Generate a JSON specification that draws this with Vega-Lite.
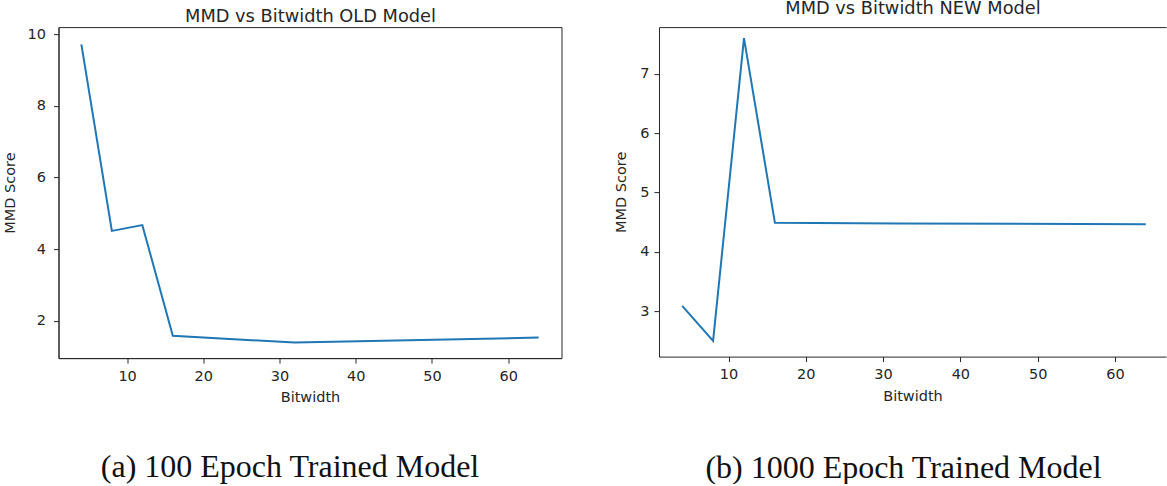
{
  "$schema": "https://vega.github.io/schema/vega-lite/v6.json",
  "padding": {"left": 1.5, "top": -0.9, "right": 0, "bottom": 0},
  "background": "white",
  "spacing": 50.5,
  "config": {
    "view": {"stroke": "#262626", "strokeWidth": 1},
    "axis": {
      "grid": false,
      "labelFont": "DejaVu Sans",
      "titleFont": "DejaVu Sans",
      "labelFontSize": 14.5,
      "titleFontSize": 14.5,
      "titleFontWeight": "normal",
      "labelColor": "#262626",
      "titleColor": "#262626",
      "tickColor": "#262626",
      "domainColor": "#262626",
      "tickSize": 5,
      "labelPadding": 6,
      "titlePadding": 8
    }
  },
  "hconcat": [
    {
      "width": 503,
      "height": 331,
      "data": {"values": [
        {"bitwidth": 4, "mmd": 9.72},
        {"bitwidth": 8, "mmd": 4.51},
        {"bitwidth": 12, "mmd": 4.67},
        {"bitwidth": 16, "mmd": 1.58},
        {"bitwidth": 32, "mmd": 1.39},
        {"bitwidth": 64, "mmd": 1.53}
      ]},
      "resolve": {"axis": {"x": "independent"}},
      "layer": [
        {
          "mark": {"type": "line", "color": "#1f77b4", "strokeWidth": 2},
          "encoding": {
            "x": {"field": "bitwidth", "type": "quantitative", "scale": {"domain": [1, 67], "nice": false, "zero": false}, "axis": {"title": "Bitwidth", "values": [10, 20, 30, 40, 50, 60]}},
            "y": {"field": "mmd", "type": "quantitative", "scale": {"domain": [0.957, 10.2], "nice": false, "zero": false}, "axis": {"title": "MMD Score", "values": [2, 4, 6, 8, 10], "format": "d", "labelPadding": 8, "titlePadding": 10}}
          }
        },
        {
          "mark": {"type": "line", "strokeOpacity": 0},
          "encoding": {
            "x": {"field": "bitwidth", "type": "quantitative", "axis": {"orient": "bottom", "title": "(a) 100 Epoch Trained Model", "titleFont": "Liberation Serif", "titleFontSize": 32, "titleColor": "#111", "titlePadding": 93, "titleX": 231, "labels": false, "ticks": false, "domain": false}},
            "y": {"field": "mmd", "type": "quantitative"}
          }
        },
        {
          "mark": {"type": "line", "strokeOpacity": 0},
          "encoding": {
            "x": {"field": "bitwidth", "type": "quantitative", "axis": {"orient": "top", "title": "MMD vs Bitwidth OLD Model", "titleFontSize": 17.8, "titleBaseline": "alphabetic", "titlePadding": 6, "labels": false, "ticks": false, "domain": false}},
            "y": {"field": "mmd", "type": "quantitative"}
          }
        }
      ]
    },
    {
      "width": 507,
      "height": 329.5,
      "view": {"stroke": null},
      "data": {"values": [
        {"bitwidth": 4, "mmd": 3.09},
        {"bitwidth": 8, "mmd": 2.5},
        {"bitwidth": 12, "mmd": 7.6},
        {"bitwidth": 16, "mmd": 4.49},
        {"bitwidth": 32, "mmd": 4.48},
        {"bitwidth": 64, "mmd": 4.465}
      ]},
      "resolve": {"axis": {"x": "independent"}},
      "layer": [
        {
          "mark": {"type": "line", "color": "#1f77b4", "strokeWidth": 2},
          "encoding": {
            "x": {"field": "bitwidth", "type": "quantitative", "scale": {"domain": [1, 66.612], "nice": false, "zero": false}, "axis": {"title": "Bitwidth", "values": [10, 20, 30, 40, 50, 60]}},
            "y": {"field": "mmd", "type": "quantitative", "scale": {"domain": [2.237, 7.785], "nice": false, "zero": false}, "axis": {"title": "MMD Score", "values": [3, 4, 5, 6, 7], "format": "d", "labelPadding": 5, "titlePadding": 11}}
          }
        },
        {
          "mark": {"type": "line", "strokeOpacity": 0},
          "encoding": {
            "x": {"field": "bitwidth", "type": "quantitative", "axis": {"orient": "bottom", "title": "(b) 1000 Epoch Trained Model", "titleFont": "Liberation Serif", "titleFontSize": 32, "titleColor": "#111", "titlePadding": 96, "titleX": 244, "labels": false, "ticks": false, "domain": false}},
            "y": {"field": "mmd", "type": "quantitative"}
          }
        },
        {
          "mark": {"type": "line", "strokeOpacity": 0},
          "encoding": {
            "x": {"field": "bitwidth", "type": "quantitative", "axis": {"orient": "top", "title": "MMD vs Bitwidth NEW Model", "titleFontSize": 17.8, "titleBaseline": "alphabetic", "titlePadding": 13.4, "labels": false, "ticks": false, "domain": true}},
            "y": {"field": "mmd", "type": "quantitative"}
          }
        }
      ]
    }
  ]
}
